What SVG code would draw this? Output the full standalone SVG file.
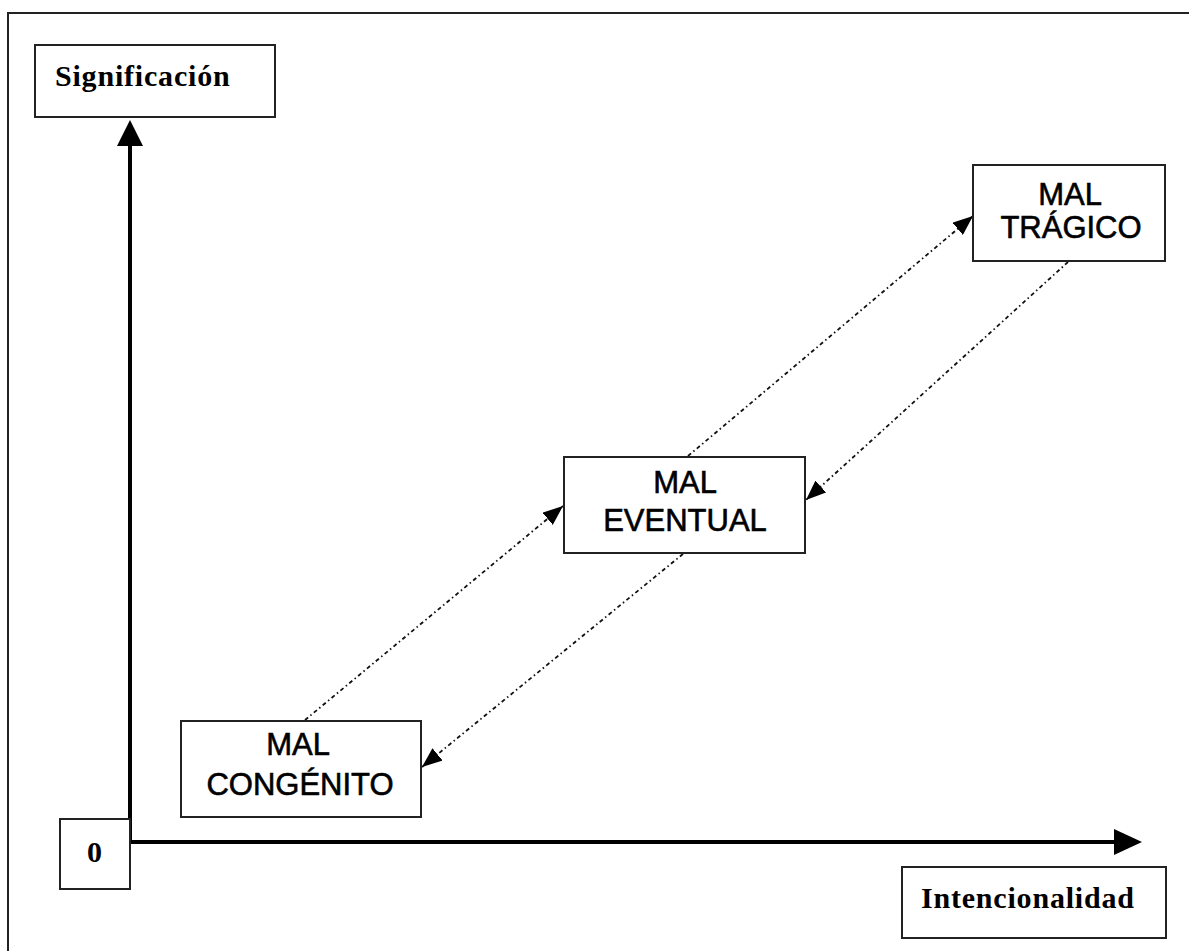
<svg xmlns="http://www.w3.org/2000/svg" width="1189" height="951" viewBox="0 0 1189 951">
<style>
.box{fill:#fff;stroke:#222;stroke-width:2}
.serif{font-family:"Liberation Serif","Times New Roman",serif;font-weight:bold;font-size:30px;fill:#000;letter-spacing:0.8px}
.sans{font-family:"Liberation Sans",Arial,sans-serif;font-size:31px;fill:#000;stroke:#000;stroke-width:0.6;text-anchor:middle}
.axis{stroke:#000;stroke-width:4;fill:none}
.dot{stroke:#111;stroke-width:1.8;fill:none;stroke-dasharray:4 3 1.5 3}
</style>
<defs>
<marker id="ah" viewBox="0 0 20 16" refX="20" refY="8" markerWidth="20" markerHeight="16" markerUnits="userSpaceOnUse" orient="auto">
<path d="M0,0 L20,8 L0,16 Z" fill="#000"/>
</marker>
</defs>
<rect width="1189" height="951" fill="#fff"/>
<path d="M8,951 L8,13 L1189,13" fill="none" stroke="#222" stroke-width="2"/>
<g id="connectors">
<line class="axis" x1="130" y1="842" x2="130" y2="144"/>
<polygon points="130,120 143,146 117,146" fill="#000"/>
<line class="axis" x1="128" y1="842" x2="1116" y2="842"/>
<polygon points="1142,842 1114,829 1114,855" fill="#000"/>
<line class="dot" x1="305" y1="720" x2="563" y2="506" marker-end="url(#ah)"/>
<line class="dot" x1="683" y1="554" x2="422" y2="767" marker-end="url(#ah)"/>
<line class="dot" x1="688" y1="456" x2="973" y2="216" marker-end="url(#ah)"/>
<line class="dot" x1="1068" y1="262" x2="806" y2="500" marker-end="url(#ah)"/>
</g>
<g id="significacion">
<rect class="box" x="35" y="45" width="240" height="72"/>
<text class="serif" x="55" y="86">Significación</text>
</g>
<g id="cero">
<rect class="box" x="60" y="819" width="70" height="70"/>
<text class="serif" x="95" y="862" text-anchor="middle">0</text>
</g>
<g id="intencionalidad">
<rect class="box" x="902" y="867" width="264" height="71"/>
<text class="serif" x="921" y="908">Intencionalidad</text>
</g>
<g id="mal-tragico">
<rect class="box" x="973" y="165" width="192" height="96"/>
<text class="sans" x="1070" y="205">MAL</text>
<text class="sans" x="1071" y="238">TRÁGICO</text>
</g>
<g id="mal-eventual">
<rect class="box" x="564" y="457" width="241" height="96"/>
<text class="sans" x="685" y="493">MAL</text>
<text class="sans" x="685" y="531">EVENTUAL</text>
</g>
<g id="mal-congenito">
<rect class="box" x="181" y="721" width="240" height="96"/>
<text class="sans" x="298" y="755">MAL</text>
<text class="sans" x="300" y="795">CONGÉNITO</text>
</g>
</svg>
